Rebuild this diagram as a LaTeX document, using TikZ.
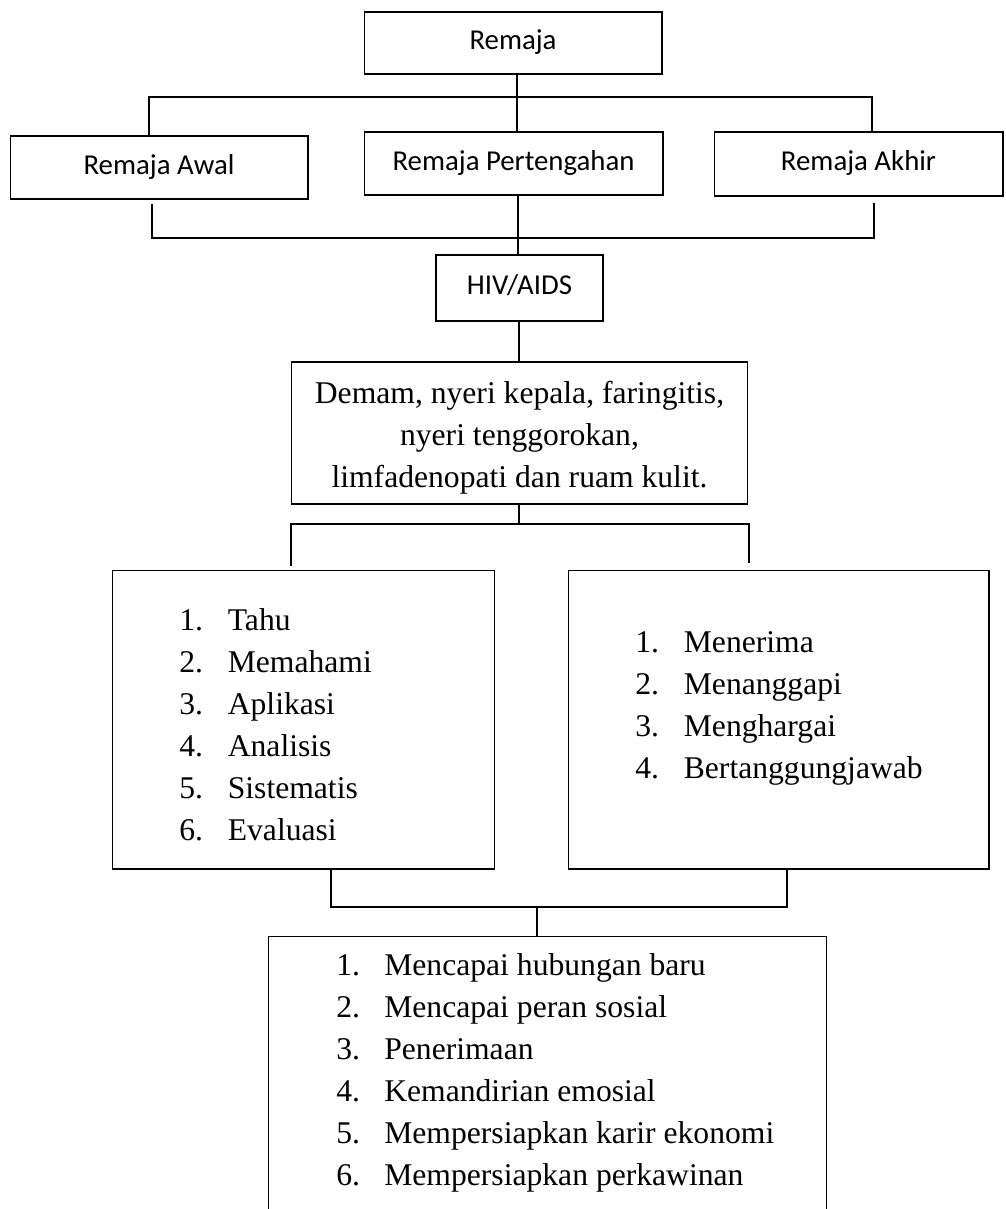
\documentclass[tikz,border=0pt]{standalone}
\usepackage{fontspec}
\setmainfont{Liberation Serif}
\newfontfamily\calfont{Carlito}
\usepackage{array}
\usepackage{tikz}
\newcommand{\labelfont}{\calfont\fontsize{16.4pt}{20pt}\selectfont}
\newcommand{\listfont}{\fontsize{18pt}{24pt}\selectfont}
\tikzset{
    chart_box/.style={
        draw=black,
        line width=0.6pt,
        inner sep=0pt,
        fill=white
    },
    label_box/.style={
        chart_box,
        font=\labelfont,
        text height=11.5pt,
        text depth=3.6pt
    },
    list_text/.style={
        anchor=base west,
        inner sep=0pt,
        font=\listfont
    },
    chart_link/.style={
        draw=black,
        line width=0.9pt
    }
}

\begin{document}
\begin{tikzpicture}[x=0.02cm, y=-0.02cm]
    \path[use as bounding box, clip] (0,0) rectangle (1005,1209);

    % age groups
    \node[label_box, minimum width=5.96cm, minimum height=1.24cm] (remaja) at (513,43) {Remaja};
    \node[label_box, minimum width=5.96cm, minimum height=1.26cm] (awal) at (159,167.5) {Remaja Awal};
    \node[label_box, minimum width=5.98cm, minimum height=1.26cm] (tengah) at (513.5,163.5) {Remaja Pertengahan};
    \node[label_box, minimum width=5.78cm, minimum height=1.28cm] (akhir) at (858.5,164) {Remaja Akhir};
    \node[label_box, minimum width=3.34cm, minimum height=1.32cm] (hiv) at (519.5,288) {HIV/AIDS};

    % symptoms
    \node[chart_box, minimum width=9.14cm, minimum height=2.84cm] (gejala) at (519.5,433) {};
    \node[font=\listfont, align=center, inner sep=0pt] (gejala_text) at (519.5,437.5)
        {Demam, nyeri kepala, faringitis,\\ nyeri tenggorokan,\\ limfadenopati dan ruam kulit.};

    % knowledge, attitude, tasks
    \node[chart_box, minimum width=7.66cm, minimum height=5.98cm] (tahu_box) at (303.5,719.5) {};
    \node[chart_box, minimum width=8.42cm, minimum height=5.98cm] (sikap_box) at (778.5,719.5) {};
    \node[chart_box, minimum width=11.18cm, minimum height=6.48cm] (tugas_box) at (547.5,1098) {};

    \node[list_text] (tahu) at (179,630) {\begin{tabular}[t]{@{}p{0.97cm}@{}l@{}}
        1. & Tahu\\ 2. & Memahami\\ 3. & Aplikasi\\ 4. & Analisis\\ 5. & Sistematis\\ 6. & Evaluasi
    \end{tabular}};
    \node[list_text] (sikap) at (635,652) {\begin{tabular}[t]{@{}p{0.97cm}@{}l@{}}
        1. & Menerima\\ 2. & Menanggapi\\ 3. & Menghargai\\ 4. & Bertanggungjawab
    \end{tabular}};
    \node[list_text] (tugas) at (336,975) {\begin{tabular}[t]{@{}p{0.96cm}@{}l@{}}
        1. & Mencapai hubungan baru\\ 2. & Mencapai peran sosial\\ 3. & Penerimaan\\
        4. & Kemandirian emosial\\ 5. & Mempersiapkan karir ekonomi\\ 6. & Mempersiapkan perkawinan
    \end{tabular}};

    % bus points
    \coordinate (busA) at (517,97);
    \coordinate (busA-l) at (149,97);
    \coordinate (busA-r) at (872,97);
    \coordinate (busB) at (518,238);
    \coordinate (busB-l) at (152,238);
    \coordinate (busB-r) at (874,238);
    \coordinate (busC) at (519,524);
    \coordinate (busC-l) at (291,524);
    \coordinate (busC-r) at (749,524);
    \coordinate (busD) at (537,907);
    \coordinate (busD-l) at (331,907);
    \coordinate (busD-r) at (787,907);

    \draw[chart_link] (remaja.south -| busA) -- (tengah.north -| busA);
    \draw[chart_link] (awal.north -| busA-l) -- (busA-l) -- (busA-r) -- (akhir.north -| busA-r);
    \draw[chart_link, shorten <=0.08cm, shorten >=0.12cm] (awal.south -| busB-l) -- (busB-l) -- (busB-r) -- (akhir.south -| busB-r);
    \draw[chart_link] (tengah.south -| busB) -- (hiv.north -| busB);
    \draw[chart_link] (hiv.south -| busC) -- (gejala.north -| busC);
    \draw[chart_link] (gejala.south -| busC) -- (busC);
    \draw[chart_link, shorten <=0.08cm, shorten >=0.14cm] (tahu_box.north -| busC-l) -- (busC-l) -- (busC-r) -- (sikap_box.north -| busC-r);
    \draw[chart_link] (tahu_box.south -| busD-l) -- (busD-l) -- (busD-r) -- (sikap_box.south -| busD-r);
    \draw[chart_link] (busD) -- (tugas_box.north -| busD);
\end{tikzpicture}
\end{document}
